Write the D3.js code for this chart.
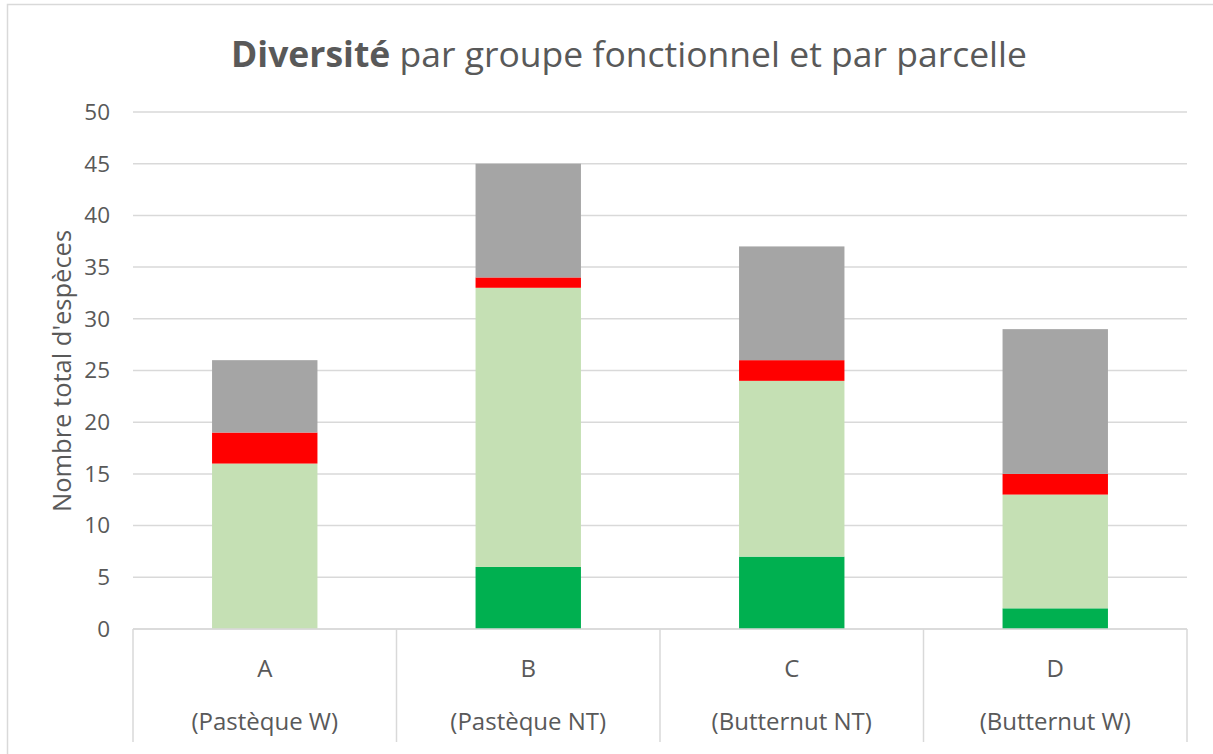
<!DOCTYPE html>
<html>
<head>
<meta charset="utf-8">
<script src="https://cdnjs.cloudflare.com/ajax/libs/d3/7.8.5/d3.min.js"></script>
<style>
  body { margin: 0; background: #fff; }
  text { font-family: "Open Sans", "Noto Sans", sans-serif; fill: #595959; }
</style>
</head>
<body>
<div class="chart"></div>
<script>
//data
var categories = ['A', 'B', 'C', 'D'];
var subLabels = ['(Pastèque W)', '(Pastèque NT)', '(Butternut NT)', '(Butternut W)'];
var seriesNames = ['g1', 'g2', 'g3', 'g4'];
var darkGreen = [0, 6, 7, 2];
var lightGreen = [16, 27, 17, 11];
var redPart = [3, 1, 2, 2];
var grayPart = [7, 11, 11, 14];
var seriesColors = ['#00b050', '#c5e0b4', '#ff0000', '#a5a5a5'];
var yTicks = [0, 5, 10, 15, 20, 25, 30, 35, 40, 45, 50];

var W = 1213, H = 754;
var margin = {left: 133, right: 26, top: 112, bottom: 125};

var svg = d3.select('.chart')
  .append('svg')
    .attr('width', W)
    .attr('height', H);

//outer border of the chart
svg.append('rect')
  .attr('x', 7.5).attr('y', 4.5)
  .attr('width', W + 10).attr('height', H + 10)
  .attr('fill', 'none')
  .attr('stroke', '#d9d9d9')
  .attr('stroke-width', 1.5);

var x = d3.scaleBand()
  .domain(categories)
  .range([margin.left, W - margin.right])
  .paddingInner(0)
  .paddingOuter(0);

var y = d3.scaleLinear()
  .domain([0, 50])
  .range([H - margin.bottom, margin.top]);

//gridlines
svg.append('g')
  .selectAll('line')
  .data(yTicks)
  .enter()
  .append('line')
    .attr('x1', margin.left)
    .attr('x2', W - margin.right)
    .attr('y1', function(d){ return y(d) })
    .attr('y2', function(d){ return y(d) })
    .attr('stroke', '#d9d9d9')
    .attr('stroke-width', 1.5);

//y tick labels
svg.append('g')
  .selectAll('text')
  .data(yTicks)
  .enter()
  .append('text')
    .attr('x', 110)
    .attr('y', function(d){ return y(d) })
    .attr('dy', '0.35em')
    .attr('text-anchor', 'end')
    .style('font-size', '22.5px')
    .text(function(d){ return d });

//stack the series
var rows = categories.map(function(c, i){
  return {cat: c, g1: darkGreen[i], g2: lightGreen[i], g3: redPart[i], g4: grayPart[i]};
});
var stacked = d3.stack().keys(seriesNames)(rows);

var barW = x.bandwidth() * 0.4;
svg.append('g')
  .selectAll('g')
  .data(stacked)
  .enter()
  .append('g')
    .attr('fill', function(d, i){ return seriesColors[i] })
  .selectAll('rect')
  .data(function(d){ return d })
  .enter()
  .append('rect')
    .attr('x', function(d){ return x(d.data.cat) + (x.bandwidth() - barW) / 2 })
    .attr('y', function(d){ return y(d[1]) })
    .attr('width', barW)
    .attr('height', function(d){ return y(d[0]) - y(d[1]) });

//category axis box
var axisY = y(0);
var axisBottom = 742;
svg.append('line')
  .attr('x1', margin.left).attr('x2', W - margin.right)
  .attr('y1', axisY).attr('y2', axisY)
  .attr('stroke', '#d9d9d9').attr('stroke-width', 1.5);

var seps = categories.map(function(c){ return x(c) }).concat([W - margin.right]);
svg.append('g')
  .selectAll('line')
  .data(seps)
  .enter()
  .append('line')
    .attr('x1', function(d){ return d })
    .attr('x2', function(d){ return d })
    .attr('y1', axisY)
    .attr('y2', axisBottom)
    .attr('stroke', '#d9d9d9')
    .attr('stroke-width', 1.5);

var labels = svg.append('g')
  .selectAll('g')
  .data(categories)
  .enter()
  .append('g');

labels.append('text')
  .attr('x', function(d){ return x(d) + x.bandwidth() / 2 })
  .attr('y', 677)
  .attr('text-anchor', 'middle')
  .style('font-size', '24px')
  .text(function(d){ return d });

labels.append('text')
  .attr('x', function(d){ return x(d) + x.bandwidth() / 2 })
  .attr('y', 730)
  .attr('text-anchor', 'middle')
  .style('font-size', '24px')
  .text(function(d, i){ return subLabels[i] });

//y axis title
svg.append('text')
  .attr('transform', 'translate(71,371) rotate(-90)')
  .attr('text-anchor', 'middle')
  .style('font-size', '25.5px')
  .text("Nombre total d'espèces");

//chart title
var title = svg.append('text')
  .attr('x', 629)
  .attr('y', 67)
  .attr('text-anchor', 'middle')
  .style('font-size', '35.5px');
title.append('tspan').style('font-weight', 'bold').text('Diversité');
title.append('tspan').text(' par groupe fonctionnel et par parcelle');
</script>
</body>
</html>
